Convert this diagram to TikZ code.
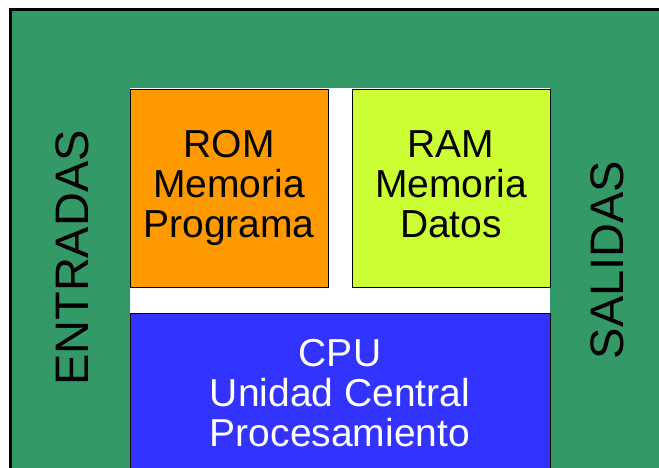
\documentclass[tikz,border=0pt]{standalone}
\usepackage{fontspec}
\setmainfont{Liberation Sans}
\definecolor{fondo}{RGB}{51,153,102}
\definecolor{naranja}{RGB}{255,153,0}
\definecolor{limon}{RGB}{204,255,51}
\definecolor{azul}{RGB}{51,51,255}
\tikzset{
  caja/.style={draw=black, line width=1pt, inner sep=0pt, align=center,
    font=\fontsize{39}{40}\selectfont},
  lado/.style={rotate=90, inner sep=0pt, font=\fontsize{47}{47}\selectfont}
}
\begin{document}
\begin{tikzpicture}[x=1pt,y=-1pt]
		\useasboundingbox (0,0) rectangle (659,467);
		\clip (0,0) rectangle (659,467);
		\fill[white] (0,0) rectangle (659,467);

		% fondo y franja blanca
		\draw[fill=fondo, line width=3pt] (10,9) rectangle (720,520);
		\fill[white] (130,88) rectangle (550,320);

		\node[caja, fill=naranja, minimum width=198pt, minimum height=198pt] (rom) at (229,188) {ROM\\Memoria\\Programa};
		\node[caja, fill=limon, minimum width=198pt, minimum height=198pt] (ram) at (451,188) {RAM\\Memoria\\Datos\vphantom{g}};
		\node[caja, fill=azul, text=white, minimum width=420pt, minimum height=160pt] (cpu) at (340,393) {CPU\\Unidad Central\\Procesamiento};

		\node[lado] (entradas) at (72,258) {ENTRADAS};
		\node[lado] (salidas) at (607,260) {SALIDAS};
	\end{tikzpicture}
\end{document}
